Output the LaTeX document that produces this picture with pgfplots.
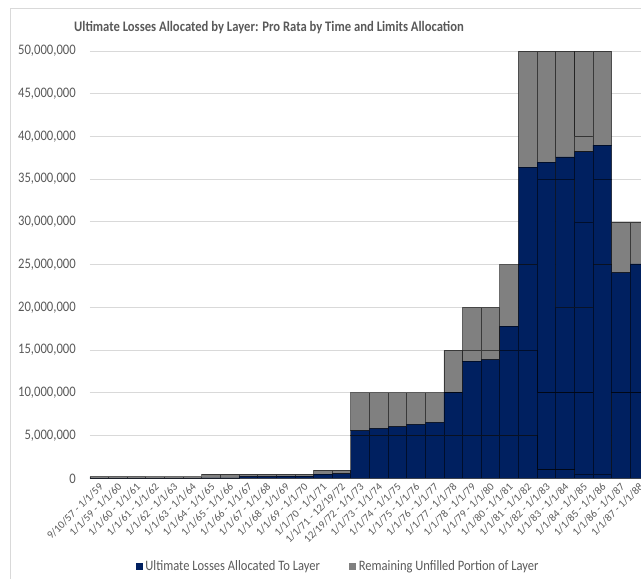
\documentclass[border=0pt]{standalone}
\usepackage{fontspec}
\setmainfont{Carlito}
\usepackage{graphicx}
\usepackage{pgfplots}
\usepackage{pgfplotstable}
\pgfplotsset{compat=1.18}

\definecolor{layerblue}{HTML}{002060}
\definecolor{layergray}{HTML}{808080}
\definecolor{txt}{HTML}{595959}
\definecolor{gridc}{HTML}{D9D9D9}

% slightly condensed text, as in the chart's labels
\newcommand{\cond}[1]{\scalebox{0.87}[1]{#1}}

% For each period: filled (F) and unfilled (U) part of each stacked layer, bottom to top
\pgfplotstableread{
x  F1       U1      F2       U2      F3       U3      F4       U4       F5      U5       F6 U6
0  20000    180000  0        0       0        0       0        0        0       0        0  0
1  20000    180000  0        0       0        0       0        0        0       0        0  0
2  20000    180000  0        0       0        0       0        0        0       0        0  0
3  20000    160000  0        0       0        0       0        0        0       0        0  0
4  20000    160000  0        0       0        0       0        0        0       0        0  0
5  20000    160000  0        0       0        0       0        0        0       0        0  0
6  50000    450000  0        0       0        0       0        0        0       0        0  0
7  50000    450000  0        0       0        0       0        0        0       0        0  0
8  220000   280000  0        0       0        0       0        0        0       0        0  0
9  220000   280000  0        0       0        0       0        0        0       0        0  0
10 250000   250000  0        0       0        0       0        0        0       0        0  0
11 250000   250000  0        0       0        0       0        0        0       0        0  0
12 500000   470000  0        0       0        0       0        0        0       0        0  0
13 550000   420000  0        0       0        0       0        0        0       0        0  0
14 5000000  0       570000   4430000 0        0       0        0        0       0        0  0
15 5000000  0       850000   4150000 0        0       0        0        0       0        0  0
16 5000000  0       1040000  3960000 0        0       0        0        0       0        0  0
17 5000000  0       1320000  3680000 0        0       0        0        0       0        0  0
18 5000000  0       1550000  3450000 0        0       0        0        0       0        0  0
19 5000000  0       5000000  0       80000    4920000 0        0        0       0        0  0
20 5000000  0       8700000  1300000 0        5000000 0        0        0       0        0  0
21 5000000  0       8900000  1100000 0        5000000 0        0        0       0        0  0
22 5000000  0       10000000 0       2800000  7200000 0        0        0       0        0  0
23 5000000  0       10000000 0       10000000 0       11400000 13600000 0       0        0  0
24 1000000  0       9000000  0       25000000 0       2000000  13000000 0       0        0  0
25 1000000  0       9000000  0       10000000 0       15000000 0        2600000 12400000 0  0
26 500000   0       9500000  0       10000000 0       10000000 0        8200000 1800000  0  10000000
27 500000   0       24500000 0       10000000 0       4000000  11000000 0       0        0  0
28 10000000 0       14060000 5940000 0        0       0        0        0       0        0  0
29 10000000 0       15080000 4920000 0        0       0        0        0       0        0  0
}\layers

\begin{document}
\begin{tikzpicture}
% chart frame
\draw[gridc, line width=0.75pt] (-59.25pt,-90pt) rectangle (430pt,352.7pt);

\begin{axis}[
  at={(0pt,0pt)}, anchor=south west,
  scale only axis, width=413.25pt, height=320.5pt,
  xmin=-0.5, xmax=29.08, ymin=0, ymax=50000000,
  enlargelimits=false,
  ybar stacked, bar width=1,
  axis lines*=left,
  x axis line style={draw=gridc, line width=0.75pt, -},
  y axis line style={draw=none},
  major tick length=0pt,
  ymajorgrids, grid style={draw=gridc, line width=0.75pt},
  xtick={0,...,29},
  xticklabels={9/10/57 - 1/1/59, 1/1/59 - 1/1/60, 1/1/60 - 1/1/61,
    1/1/61 - 1/1/62, 1/1/62 - 1/1/63, 1/1/63 - 1/1/64, 1/1/64 - 1/1/65,
    1/1/65 - 1/1/66, 1/1/66 - 1/1/67, 1/1/67 - 1/1/68, 1/1/68 - 1/1/69,
    1/1/69 - 1/1/70, 1/1/70 - 1/1/71, 1/1/71 - 12/19/72, 12/19/72 - 1/1/73,
    1/1/73 - 1/1/74, 1/1/74 - 1/1/75, 1/1/75 - 1/1/76, 1/1/76 - 1/1/77,
    1/1/77 - 1/1/78, 1/1/78 - 1/1/79, 1/1/79 - 1/1/80, 1/1/80 - 1/1/81,
    1/1/81 - 1/1/82, 1/1/82 - 1/1/83, 1/1/83 - 1/1/84, 1/1/84 - 1/1/85,
    1/1/85 - 1/1/86, 1/1/86 - 1/1/87, 1/1/87 - 1/1/88},
  xticklabel style={rotate=45, anchor=east, yshift=-4.5pt, xshift=1pt,
    font=\fontsize{8.1}{9}\selectfont, text=txt},
  ytick={0,5000000,10000000,15000000,20000000,25000000,30000000,35000000,40000000,45000000,50000000},
  scaled y ticks=false,
  /pgf/number format/fixed, /pgf/number format/precision=0,
  /pgf/number format/1000 sep={,}, /pgf/number format/assume math mode=true,
  yticklabel={\cond{\pgfmathprintnumber{\tick}}},
  yticklabel style={font=\fontsize{10.9}{12}\selectfont, text=txt, inner sep=0pt, xshift=-10.5pt},
  legend columns=2,
  legend style={at={(axis description cs:0.451,-0.2053)}, anchor=center,
    draw=none, fill=none, font=\fontsize{10.8}{12}\selectfont, text=txt,
    /tikz/every even column/.append style={column sep=20pt}},
  legend image code/.code={\path[#1, draw=none] (0pt,-2.6pt) rectangle (5.2pt,2.6pt);},
  every axis plot/.append style={draw=black, draw opacity=0.55, line width=0.6pt},
]
\addplot[fill=layerblue] table[x=x, y=F1] {\layers};
\addplot[fill=layergray] table[x=x, y=U1] {\layers};
\addplot[fill=layerblue, forget plot] table[x=x, y=F2] {\layers};
\addplot[fill=layergray, forget plot] table[x=x, y=U2] {\layers};
\addplot[fill=layerblue, forget plot] table[x=x, y=F3] {\layers};
\addplot[fill=layergray, forget plot] table[x=x, y=U3] {\layers};
\addplot[fill=layerblue, forget plot] table[x=x, y=F4] {\layers};
\addplot[fill=layergray, forget plot] table[x=x, y=U4] {\layers};
\addplot[fill=layerblue, forget plot] table[x=x, y=F5] {\layers};
\addplot[fill=layergray, forget plot] table[x=x, y=U5] {\layers};
\addplot[fill=layerblue, forget plot] table[x=x, y=F6] {\layers};
\addplot[fill=layergray, forget plot] table[x=x, y=U6] {\layers};
\legend{\cond{Ultimate Losses Allocated To Layer}, \cond{Remaining Unfilled Portion of Layer}}
\end{axis}

\node[font=\fontsize{10.9}{13}\selectfont\bfseries, text=txt] at (134.25pt,337.8pt)
  {\cond{Ultimate Losses Allocated by Layer: Pro Rata by Time and Limits Allocation}};

\pgfresetboundingbox
\useasboundingbox (-67.5pt,-74.8pt) rectangle (413.25pt,358.75pt);
\end{tikzpicture}
\end{document}
